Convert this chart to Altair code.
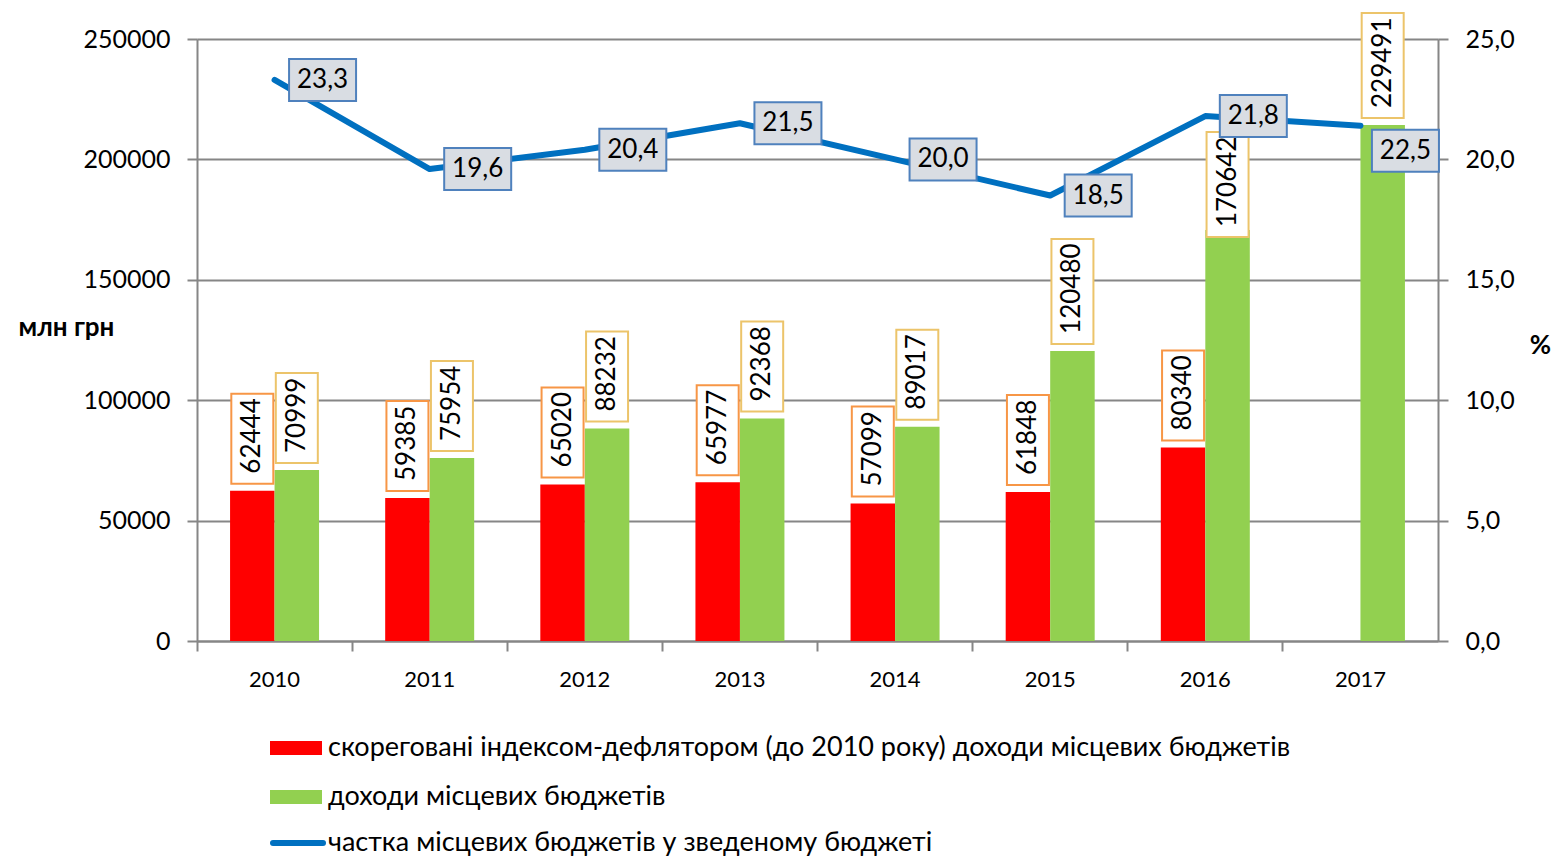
import altair as alt
import pandas as pd

# ---------------- data ----------------
years = ["2010", "2011", "2012", "2013", "2014", "2015", "2016", "2017"]
corrected_income = [62444, 59385, 65020, 65977, 57099, 61848, 80340, None]
corrected_labels = ["62444", "59385", "65020", "65977", "57099", "61848", "80340", ""]
local_income = [70999, 75954, 88232, 92368, 89017, 120480, 170642, 214300]
local_labels = ["70999", "75954", "88232", "92368", "89017", "120480", "170642", "229491"]
share = [23.3, 19.6, 20.4, 21.5, 20.0, 18.5, 21.8, 21.4]
share_labels = ["23,3", "19,6", "20,4", "21,5", "20,0", "18,5", "21,8", "22,5"]
series_names = [
    "скореговані індексом-дефлятором (до 2010 року) доходи місцевих бюджетів",
    "доходи місцевих бюджетів",
    "частка місцевих бюджетів у зведеному бюджеті",
]
left_ticks = [0, 50000, 100000, 150000, 200000, 250000]
right_ticks = [0, 5, 10, 15, 20, 25]

FONT = "Lato"
GRID = "#868686"

rows = []
for i, yr in enumerate(years):
    if corrected_income[i] is not None:
        rows.append(dict(year=yr, s="a", value=corrected_income[i], label=corrected_labels[i]))
    rows.append(dict(year=yr, s="b", value=local_income[i], label=local_labels[i]))
bars_df = pd.DataFrame(rows)
bars_df["nd"] = bars_df["label"].str.len().astype(str)

line_df = pd.DataFrame({"year": years, "share": share, "label": share_labels})
legend_df = pd.DataFrame({"name": series_names})

# ---------------- scales ----------------
x_enc = alt.X(
    "year:N",
    scale=alt.Scale(domain=years, paddingInner=0, paddingOuter=0),
    axis=alt.Axis(
        title=None, labelAngle=0, bandPosition=0,
        tickSize=10, tickWidth=2, tickColor=GRID, domainColor=GRID, domainWidth=2,
        labelFontSize=22, labelFont=FONT, labelColor="black", labelPadding=18, grid=False,
    ),
)
xoff = alt.XOffset("s:N", scale=alt.Scale(domain=["a", "b"], paddingInner=0, paddingOuter=0.743))

y_left = alt.Y(
    "value:Q",
    scale=alt.Scale(domain=[0, 250000], nice=False),
    axis=alt.Axis(
        orient="left", values=left_ticks, format="d",
        title="млн грн", titleAngle=0, titleX=-131, titleY=288, titleAlign="center",
        titleBaseline="middle", titleFontWeight="bold", titleFontSize=26, titleFont=FONT,
        titleColor="black",
        labelFontSize=25, labelFont=FONT, labelColor="black", labelPadding=17,
        tickSize=10, tickWidth=2, tickColor=GRID, domainColor=GRID, domainWidth=2,
        grid=True, gridColor=GRID, gridWidth=2,
    ),
)

box5 = "M-21,-7H21V-97H-21Z"
box6 = "M-21,-7H21V-112H-21Z"

bars = alt.Chart(bars_df).mark_bar().encode(
    x=x_enc, xOffset=xoff, y=y_left,
    color=alt.Color("s:N", scale=alt.Scale(domain=["a", "b"], range=["#ff0000", "#92d050"]), legend=None),
)

box_stroke = alt.Stroke("s:N", scale=alt.Scale(domain=["a", "b"], range=["#f79646", "#ecc46a"]), legend=None)
box_shape = alt.Shape("nd:N", scale=alt.Scale(domain=["5", "6"], range=[box5, box6]), legend=None)

std = alt.Chart(bars_df).transform_filter("datum.label != '' && !(datum.year == '2016' && datum.s == 'b')")
moved = alt.Chart(bars_df).transform_filter("datum.year == '2016' && datum.s == 'b'")

bar_boxes = std.mark_point(size=4, fill="white", strokeWidth=2, opacity=1).encode(
    x=x_enc, xOffset=xoff, y=y_left, stroke=box_stroke, shape=box_shape
)
bar_text = std.mark_text(
    angle=270, align="left", baseline="middle", dx=17, fontSize=26, font=FONT, color="black"
).encode(x=x_enc, xOffset=xoff, y=y_left, text="label:N")
moved_box = moved.mark_point(size=4, fill="white", strokeWidth=2, opacity=1, yOffset=14).encode(
    x=x_enc, xOffset=xoff, y=y_left, stroke=box_stroke, shape=box_shape
)
moved_text = moved.mark_text(
    angle=270, align="left", baseline="middle", dx=3, fontSize=26, font=FONT, color="black"
).encode(x=x_enc, xOffset=xoff, y=y_left, text="label:N")

bar_layer = alt.layer(bars, bar_boxes, bar_text, moved_box, moved_text)

y_right = alt.Y(
    "share:Q",
    scale=alt.Scale(domain=[0, 25], nice=False),
    axis=alt.Axis(
        orient="right", values=right_ticks,
        labelExpr="replace(format(datum.value, '.1f'), '.', ',')",
        title="%", titleAngle=0, titleX=102, titleY=306, titleAlign="center",
        titleBaseline="middle", titleFontWeight="bold", titleFontSize=26, titleFont=FONT,
        titleColor="black",
        labelFontSize=25, labelFont=FONT, labelColor="black", labelPadding=17,
        tickSize=10, tickWidth=2, tickColor=GRID, domainColor=GRID, domainWidth=2, grid=False,
    ),
)

lbox = "M-33.5,-21H33.5V21H-33.5Z"

line = alt.Chart(line_df).mark_line(color="#0070c0", strokeWidth=6, strokeCap="round", strokeJoin="round").encode(
    x=x_enc, y=y_right
)
main_lab = alt.Chart(line_df).transform_filter("datum.year != '2017'")
last_lab = alt.Chart(line_df).transform_filter("datum.year == '2017'")
lab_boxes = main_lab.mark_point(
    shape=lbox, size=4, fill="#d9dde3", stroke="#4f81bd", strokeWidth=2, opacity=1, xOffset=48
).encode(x=x_enc, y=y_right)
lab_text = main_lab.mark_text(dx=48, fontSize=26, font=FONT, color="black", baseline="middle").encode(
    x=x_enc, y=y_right, text="label:N"
)
last_box = last_lab.mark_point(
    shape=lbox, size=4, fill="#d9dde3", stroke="#4f81bd", strokeWidth=2, opacity=1, xOffset=45, yOffset=25
).encode(x=x_enc, y=y_right)
last_text = last_lab.mark_text(dx=45, dy=25, fontSize=26, font=FONT, color="black", baseline="middle").encode(
    x=x_enc, y=y_right, text="label:N"
)
line_layer = alt.layer(line, lab_boxes, lab_text, last_box, last_text)

# ---------------- legend ----------------
def leg_text(i, ypix):
    return alt.Chart(legend_df).transform_filter(alt.datum.name == series_names[i]).mark_text(
        align="left", baseline="middle", fontSize=27, font=FONT, color="black"
    ).encode(x=alt.value(131), y=alt.value(ypix), text="name:N")

leg_red = alt.Chart(legend_df).transform_filter(alt.datum.name == series_names[0]).mark_rect(color="#ff0000").encode(
    x=alt.value(73), x2=alt.value(125), y=alt.value(702), y2=alt.value(716)
)
leg_green = alt.Chart(legend_df).transform_filter(alt.datum.name == series_names[1]).mark_rect(color="#92d050").encode(
    x=alt.value(73), x2=alt.value(125), y=alt.value(751), y2=alt.value(765)
)
leg_line = alt.Chart(legend_df).transform_filter(alt.datum.name == series_names[2]).mark_rule(
    color="#0070c0", strokeWidth=6, strokeCap="round"
).encode(x=alt.value(76), x2=alt.value(126), y=alt.value(804))

chart = alt.layer(
    bar_layer, line_layer, leg_red, leg_green, leg_line,
    leg_text(0, 709), leg_text(1, 758), leg_text(2, 804),
).resolve_scale(y="independent").properties(
    width=1241, height=602,
    padding={"left": 189, "top": 31, "right": 114, "bottom": 218},
    autosize=alt.AutoSizeParams(type="none"),
).configure_view(stroke=None).configure(font=FONT)

chart.save("out.html", embed_options={"renderer": "svg", "actions": False})
